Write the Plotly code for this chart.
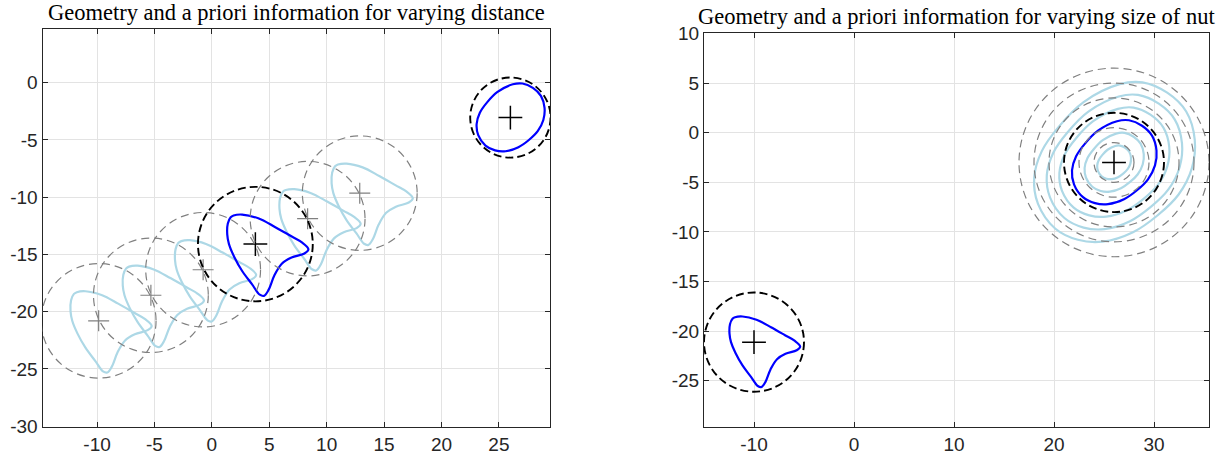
import plotly.graph_objects as go

# ---------------- data ----------------
# nut outline, offsets from its centre (closed: first == last)
nut_dx = [-1.9, -1.15, 0.25, 1.7, 3.1, 4.05, 4.62, 4.27, 3.15, 2.3, 1.65, 1.15, 0.75, 0.38,
          -0.3, -1.15, -1.85, -2.3, -2.45, -2.4, -2.15, -1.9]
nut_dy = [2.5, 2.58, 2.25, 1.5, 0.7, 0.15, -0.45, -0.82, -1.18, -1.72, -2.75, -4.0, -4.52, -4.42,
          -3.5, -2.35, -1.1, 0.0, 0.85, 1.8, 2.35, 2.5]
# rounded blob outline, offsets from its centre for a radius-5 circle (closed)
blob_dx = [0.3, 1.5, 2.8, 3.8, 4.25, 4.1, 3.4, 2.3, 1.0, -0.6, -1.9, -3.1, -4.0, -4.2, -3.8,
           -2.9, -1.6, 0.3]
blob_dy = [4.15, 4.25, 3.7, 2.7, 1.2, -0.3, -1.7, -2.8, -3.7, -4.2, -4.1, -3.5, -2.2, -0.8, 0.6,
           1.9, 3.2, 4.15]
blob_ref_radius = 5.0

# left panel: nut positions for varying distance (index 3 is the true one)
left_nut_cx = [-9.86, -5.31, -0.76, 3.79, 8.34, 12.88]
left_nut_cy = [-20.8, -18.57, -16.34, -14.1, -11.88, -9.65]
left_true_idx = 3
nut_radius = 5.0
left_blob_c = (26.0, -3.05)
left_blob_radius = 3.5

# right panel: nut fixed, blob with varying size (index 2 is the true one)
right_nut_c = (-10.0, -21.1)
right_blob_c = (26.0, -3.0)
right_blob_radii = [2.0, 3.5, 5.0, 6.5, 8.0, 9.5]
right_true_idx = 2

left_xticks = [-10, -5, 0, 5, 10, 15, 20, 25]
left_yticks = [0, -5, -10, -15, -20, -25, -30]
right_xticks = [-10, 0, 10, 20, 30]
right_yticks = [10, 5, 0, -5, -10, -15, -20, -25]

titles = ["Geometry and a priori information for varying distance",
          "Geometry and a priori information for varying size of nut"]

# ---------------- styles ----------------
BLUE = "#0000ff"
LBLUE = "#add8e6"
GRAY = "#808080"
BLACK = "#000000"
AX = "#262626"

fig = go.Figure()
shapes = []


def outline(cx, cy, dx, dy, scale, color, xa, ya):
    fig.add_trace(go.Scatter(
        x=[cx + scale * v for v in dx], y=[cy + scale * v for v in dy],
        mode="lines", line=dict(color=color, width=2.2, shape="spline", smoothing=1.0,
                                simplify=False),
        xaxis=xa, yaxis=ya, showlegend=False, hoverinfo="skip"))


def circle(cx, cy, r, true, xr, yr):
    shapes.append(dict(type="circle", xref=xr, yref=yr, x0=cx - r, x1=cx + r, y0=cy - r, y1=cy + r,
                       line=dict(color=BLACK if true else GRAY, width=1.9 if true else 1.2,
                                 dash="8px,4px" if true else "8px,5px"),
                       layer="above"))


def cross(xs, ys, color, xa, ya, size=17, w=1.5):
    fig.add_trace(go.Scatter(x=xs, y=ys, mode="markers",
                             marker=dict(symbol="cross-thin", size=size, line=dict(color=color, width=w)),
                             xaxis=xa, yaxis=ya, showlegend=False, hoverinfo="skip"))


# ----- left panel -----
for i, (cx, cy) in enumerate(zip(left_nut_cx, left_nut_cy)):
    if i != left_true_idx:
        outline(cx, cy, nut_dx, nut_dy, 1.0, LBLUE, "x", "y")
        circle(cx, cy, nut_radius, False, "x", "y")
tc = (left_nut_cx[left_true_idx], left_nut_cy[left_true_idx])
outline(tc[0], tc[1], nut_dx, nut_dy, 1.0, BLUE, "x", "y")
circle(tc[0], tc[1], nut_radius, True, "x", "y")
outline(left_blob_c[0], left_blob_c[1], blob_dx, blob_dy, left_blob_radius / blob_ref_radius, BLUE, "x", "y")
circle(left_blob_c[0], left_blob_c[1], left_blob_radius, True, "x", "y")
cross([c for i, c in enumerate(left_nut_cx) if i != left_true_idx],
      [c for i, c in enumerate(left_nut_cy) if i != left_true_idx], GRAY, "x", "y", 15, 1.2)
cross([tc[0], left_blob_c[0]], [tc[1], left_blob_c[1]], BLACK, "x", "y")

# ----- right panel -----
for i, r in enumerate(right_blob_radii):
    if i != right_true_idx:
        outline(right_blob_c[0], right_blob_c[1], blob_dx, blob_dy, r / blob_ref_radius, LBLUE, "x2", "y2")
        circle(right_blob_c[0], right_blob_c[1], r, False, "x2", "y2")
rt = right_blob_radii[right_true_idx]
outline(right_blob_c[0], right_blob_c[1], blob_dx, blob_dy, rt / blob_ref_radius, BLUE, "x2", "y2")
circle(right_blob_c[0], right_blob_c[1], rt, True, "x2", "y2")
outline(right_nut_c[0], right_nut_c[1], nut_dx, nut_dy, 1.0, BLUE, "x2", "y2")
circle(right_nut_c[0], right_nut_c[1], nut_radius, True, "x2", "y2")
cross([right_nut_c[0], right_blob_c[0]], [right_nut_c[1], right_blob_c[1]], BLACK, "x2", "y2")

W, H = 1226, 461


def px_x(a, b):
    return [a / W, b / W]


def px_y(top, bottom):
    return [1 - bottom / H, 1 - top / H]


def axis(dom, rng, ticks, anchor, standoff):
    return dict(domain=dom, range=rng, tickvals=ticks, ticktext=[str(t) for t in ticks],
                showline=True, linecolor=AX, linewidth=1, mirror="ticks", ticks="inside",
                ticklen=5, tickcolor=AX, showgrid=True, gridcolor="#e3e3e3", gridwidth=1,
                zeroline=False, tickfont=dict(family="Liberation Sans", size=19, color=AX),
                anchor=anchor, fixedrange=True, automargin=False, ticklabelstandoff=standoff)


fig.update_layout(
    width=W, height=H, margin=dict(l=0, r=0, t=0, b=0, pad=0, autoexpand=False),
    paper_bgcolor="white", plot_bgcolor="white",
    xaxis=axis(px_x(42.5, 550), [-14.75, 29.45], left_xticks, "y", 0),
    yaxis=axis(px_y(29.3, 426.7), [-30.05, 4.66], left_yticks, "x", 0),
    xaxis2=axis(px_x(704, 1209), [-15.0, 35.5], right_xticks, "y2", 0),
    yaxis2=axis(px_y(32.7, 427.3), [-29.68, 10.07], right_yticks, "x2", 0),
    shapes=shapes,
    annotations=[
        dict(text=titles[0], x=(42.5 + 550) / 2 / W, y=1 - 13 / H,
             xref="paper", yref="paper", xanchor="center", yanchor="middle", showarrow=False,
             font=dict(family="Liberation Serif", size=22.5, color="black")),
        dict(text=titles[1], x=(704 + 1209) / 2 / W, y=1 - 16 / H,
             xref="paper", yref="paper", xanchor="center", yanchor="middle", showarrow=False,
             font=dict(family="Liberation Serif", size=22.5, color="black")),
    ],
)

# remove the browser's default 8px body margin so the figure fills the window exactly
fig.write_html("out.html", config={"displayModeBar": False, "staticPlot": True},
               post_script="document.body.style.margin='0';")
